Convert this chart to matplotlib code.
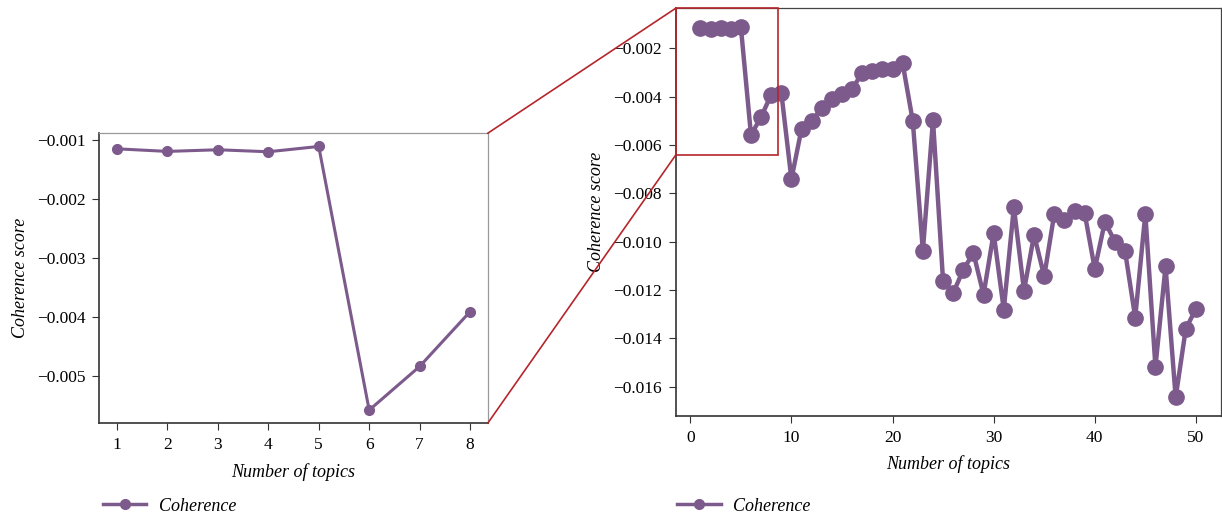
import numpy as np
import matplotlib.pyplot as plt
from matplotlib.patches import Rectangle, ConnectionPatch
from matplotlib.lines import Line2D

plt.rcParams['font.family'] = ['Liberation Serif', 'DejaVu Serif']
plt.rcParams['axes.unicode_minus'] = True

# coherence score for each number of topics
topics = list(range(1, 51))
coherence = [
    -0.001148, -0.001192, -0.001164, -0.001198, -0.001108,
    -0.005584, -0.004843, -0.003913, -0.003834, -0.007413,
    -0.005335, -0.005004, -0.004480, -0.004095, -0.003888,
    -0.003694, -0.003008, -0.002938, -0.002868, -0.002868,
    -0.002620, -0.005004, -0.010376, -0.004963, -0.011645,
    -0.012124, -0.011161, -0.010471, -0.012194, -0.009645,
    -0.012814, -0.008570, -0.012029, -0.009715, -0.011438,
    -0.008847, -0.009124, -0.008752, -0.008818, -0.011132,
    -0.009178, -0.010004, -0.010405, -0.013145, -0.008847,
    -0.015182, -0.011025, -0.016450, -0.013612, -0.012785,
]
n_zoom = 8
zoom_ticks = [-0.001, -0.002, -0.003, -0.004, -0.005]
full_ticks = [-0.002, -0.004, -0.006, -0.008, -0.010, -0.012, -0.014, -0.016]

col = '#7d5a8c'
red = '#b5262b'

fig = plt.figure(figsize=(12.22, 5.19), dpi=100)
ax1 = fig.add_axes([0.0813, 0.1844, 0.3178, 0.5588])
ax2 = fig.add_axes([0.5529, 0.1985, 0.4460, 0.7855])

ax1.plot(topics[:n_zoom], coherence[:n_zoom], color=col, lw=2.2,
         marker='o', ms=7)
ax1.set_xticks(topics[:n_zoom])
ax1.set_yticks(zoom_ticks)
ax1.set_yticklabels(['\u2212%.3f' % abs(t) for t in zoom_ticks])

ax2.plot(topics, coherence, color=col, lw=3.2, marker='o', ms=11)
ax2.set_xticks([0, 10, 20, 30, 40, 50])
ax2.set_yticks(full_ticks)
ax2.set_yticklabels(['\u2212%.3f' % abs(t) for t in full_ticks])

for ax, edge in ((ax1, '#999999'), (ax2, '#444444')):
    ax.set_xlabel('Number of topics', fontsize=13, style='italic', labelpad=7)
    ax.set_ylabel('Coherence score', fontsize=13, style='italic', labelpad=6)
    ax.tick_params(labelsize=12.5, color='#333333', length=5, pad=5)
    for s in ('top', 'right'):
        ax.spines[s].set_color(edge)
        ax.spines[s].set_linewidth(0.9)
    for s in ('left', 'bottom'):
        ax.spines[s].set_color('#333333')
        ax.spines[s].set_linewidth(1.2)

# zoom box on the full plot
x0, x1 = ax2.get_xlim()
y0, y1 = ax2.get_ylim()
box_right = 8.63
box_bottom = -0.00642
ax2.add_patch(Rectangle((x0, box_bottom), box_right - x0, y1 - box_bottom,
                        fill=False, edgecolor=red, lw=1.2, clip_on=False, zorder=5))

for ya1, yb in ((1, y1), (0, box_bottom)):
    con = ConnectionPatch(xyA=(1, ya1), coordsA=ax1.transAxes,
                          xyB=(x0, yb), coordsB=ax2.transData,
                          color=red, lw=1.2)
    fig.add_artist(con)

# legends under each panel
h = Line2D([], [], color=col, lw=2.5, marker='o', ms=7)
for xa in (0.071, 0.541):
    fig.legend([h], ['Coherence'], loc='center left', bbox_to_anchor=(xa, 0.025),
               frameon=False, prop={'style': 'italic', 'size': 13},
               handlelength=2.4, handletextpad=0.7)

fig.savefig('out.png', dpi=100)
